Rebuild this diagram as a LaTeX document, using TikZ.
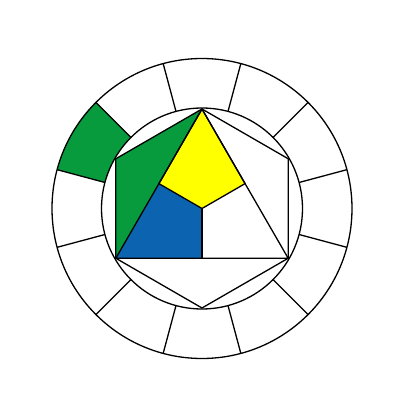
\documentclass[tikz,border=0pt]{standalone}
\usetikzlibrary{calc}
\definecolor{ittengreen}{RGB}{8,155,62}
\definecolor{ittenyellow}{RGB}{255,255,0}
\definecolor{ittenblue}{RGB}{12,100,176}
\tikzset{
  edge/.style={draw=black,line width=1.3pt,line join=round},
}
\begin{document}
\begin{tikzpicture}[x=1pt,y=1pt]
\useasboundingbox (0,0) rectangle (400,400);
\fill[white] (0,0) rectangle (400,400);
\coordinate (C) at (202,191.5);
\def\Ro{150}
\def\Ri{100.5}
\def\Rh{99.5}
% hexagon vertices
\coordinate (T)  at ($(C)+(90:\Rh)$);
\coordinate (UL) at ($(C)+(150:\Rh)$);
\coordinate (LL) at ($(C)+(210:\Rh)$);
\coordinate (B)  at ($(C)+(270:\Rh)$);
\coordinate (LR) at ($(C)+(330:\Rh)$);
\coordinate (UR) at ($(C)+(30:\Rh)$);
\coordinate (ML) at ($(T)!0.5!(LL)$);
\coordinate (MR) at ($(T)!0.5!(LR)$);
\coordinate (MB) at ($(LL)!0.5!(LR)$);
% fills
\fill[ittengreen] ($(C)+(135:\Ri)$) arc[start angle=135,end angle=165,radius=\Ri]
  -- ($(C)+(165:\Ro)$) arc[start angle=165,end angle=135,radius=\Ro] -- cycle;
\fill[ittengreen] (T) -- (UL) -- (LL) -- cycle;
\fill[ittenyellow] (T) -- (MR) -- (C) -- (ML) -- cycle;
\fill[ittenblue] (LL) -- (ML) -- (C) -- (MB) -- cycle;
% ring
\draw[edge] (C) circle[radius=\Ro];
\draw[edge] (C) circle[radius=\Ri];
\foreach \a in {15,45,...,345}{
  \draw[edge] ($(C)+(\a:\Ri)$) -- ($(C)+(\a:\Ro)$);
}
% hexagon and triangle
\draw[edge] (T) -- (UR) -- (LR) -- (B) -- (LL) -- (UL) -- cycle;
\draw[edge] (T) -- (LL) -- (LR) -- cycle;
\draw[edge] (T) -- (MR) -- (C) -- (ML) -- cycle;
\draw[edge] (C) -- (MB);
\end{tikzpicture}
\end{document}
